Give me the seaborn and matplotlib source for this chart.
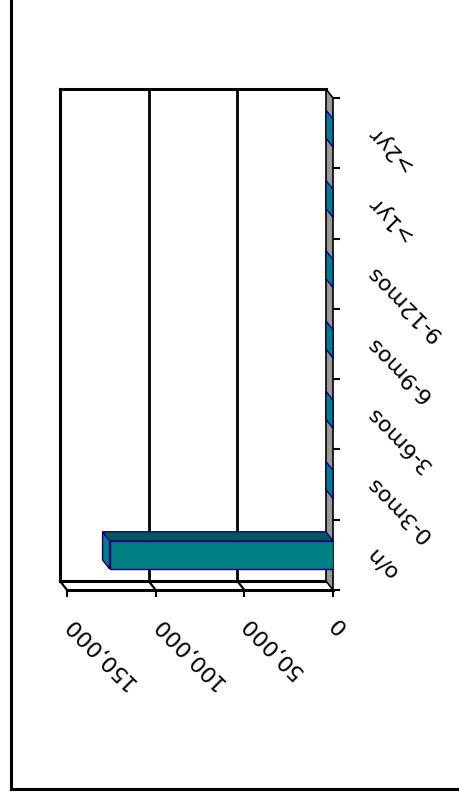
import matplotlib
matplotlib.use("Agg")
import matplotlib.pyplot as plt
import matplotlib.transforms as mtransforms
import seaborn as sns
import pandas as pd
import numpy as np
from matplotlib.patches import Polygon, Rectangle
from matplotlib.lines import Line2D

# Maturity buckets and outstanding amounts
categories = ["o/n", "0-3mos", "3-6mos", "6-9mos", "9-12mos", ">1yr", ">2yr"]
values = [126000, 0, 0, 0, 0, 0, 0]
value_ticks = [0, 50000, 100000, 150000]
value_tick_labels = ["0", "50,000", "100,000", "150,000"]

W, H = 459, 797
TEAL = "#008080"
TEAL_DARK = "#005a5a"
NAVY = "#000080"
FLOOR = "#999999"

fig = plt.figure(figsize=(W / 100, H / 100), dpi=100)
ax = fig.add_axes([67 / W, 1 - 590 / H, (333 - 67) / W, (590 - 98) / H])
ax.set_facecolor("none")

df = pd.DataFrame({"bucket": categories, "amount": values})
sns.barplot(data=df, x="amount", y="bucket", order=categories, orient="h",
            width=0.4, color=TEAL, edgecolor=NAVY, linewidth=1.0,
            saturation=1, ax=ax, zorder=6)
bars = [p for p in ax.patches if isinstance(p, Rectangle)]

ax.set_xlim(150000, 0)
ax.set_ylim(-0.5, len(categories) - 0.5)
for s in ax.spines.values():
    s.set_visible(False)

# pseudo-3D depth: offset of the back plane in pixels
DX, DY = -7, 9


def back(x, y):
    d = ax.transData.transform((x, y)) + np.array([DX, DY])
    return tuple(ax.transData.inverted().transform(d))


def poly(pts, **kw):
    p = Polygon(pts, closed=True, clip_on=False, **kw)
    ax.add_patch(p)
    return p


def line(p0, p1, **kw):
    ax.add_line(Line2D([p0[0], p1[0]], [p0[1], p1[1]], clip_on=False, **kw))


xmax = value_ticks[-1]
y0, y1 = -0.5, len(categories) - 0.5

# back wall
poly([back(xmax, y0), back(xmax, y1), back(0, y1), back(0, y0)],
     facecolor="white", edgecolor="none", zorder=1)
line(back(xmax, y0), back(xmax, y1), color="black", lw=2.2, zorder=2)
line(back(xmax, y1), back(0, y1), color="black", lw=2.2, zorder=2)
for v in value_ticks[1:-1]:
    line(back(v, y0), back(v, y1), color="black", lw=2.0, zorder=2)

# bottom side wall
poly([(0, y0), (xmax, y0), back(xmax, y0), back(0, y0)],
     facecolor="white", edgecolor="none", zorder=2)
line(back(0, y0), back(xmax, y0), color="black", lw=2.2, zorder=3)
line((0, y0), (xmax, y0), color="black", lw=2.2, zorder=3)
for v in value_ticks[1:]:
    line(back(v, y0), (v, y0), color="black", lw=1.6, zorder=3)

# floor strip
poly([(0, y0), (0, y1), back(0, y1), back(0, y0)],
     facecolor=FLOOR, edgecolor="black", linewidth=1.2, zorder=3)

# bar depth faces
for bar in bars:
    xb = bar.get_x()
    v = xb + bar.get_width()
    yb = bar.get_y()
    yt = yb + bar.get_height()
    # end face (lies on the floor for empty buckets)
    poly([(v, yb), (v, yt), back(v, yt), back(v, yb)],
         facecolor=TEAL, edgecolor=NAVY, linewidth=1.0, zorder=4)
    # top face
    if v != 0:
        poly([(0, yt), (v, yt), back(v, yt), back(0, yt)],
             facecolor=TEAL_DARK, edgecolor=NAVY, linewidth=1.0, zorder=5)

# value axis ticks
ax.set_xticks(value_ticks)
ax.set_xticklabels(value_tick_labels)
ax.tick_params(axis="x", bottom=True, top=False, length=5, width=1.5,
               color="black", direction="out", pad=16, labelsize=16)
for lab in ax.get_xticklabels():
    lab.set_rotation(135)
    lab.set_rotation_mode("anchor")
    lab.set_ha("right")
    lab.set_va("center")

# category axis ticks on the right
ax.yaxis.tick_right()
ax.set_yticks(np.arange(len(categories)))
ax.set_yticklabels(categories)
ax.set_yticks(np.arange(len(categories) + 1) - 0.5, minor=True)
ax.tick_params(axis="y", which="major", length=0, pad=26, labelsize=16,
               left=False, right=True)
ax.tick_params(axis="y", which="minor", length=5, width=1.5, color="black",
               direction="out", left=False, right=True)
lift = mtransforms.ScaledTranslation(0, 5 / 100, fig.dpi_scale_trans)
for lab in ax.get_yticklabels():
    lab.set_rotation(135)
    lab.set_rotation_mode("anchor")
    lab.set_ha("right")
    lab.set_va("center")
    lab.set_transform(lab.get_transform() + lift)
ax.set_xlabel("")
ax.set_ylabel("")

# outer frame
fig.add_artist(Line2D([11 / W, 11 / W], [1, 1 - 789 / H], transform=fig.transFigure,
                      color="black", lw=2.2))
fig.add_artist(Line2D([11 / W, 1], [1 - 789 / H, 1 - 789 / H], transform=fig.transFigure,
                      color="black", lw=2.2))

fig.savefig("out.png", dpi=100)
